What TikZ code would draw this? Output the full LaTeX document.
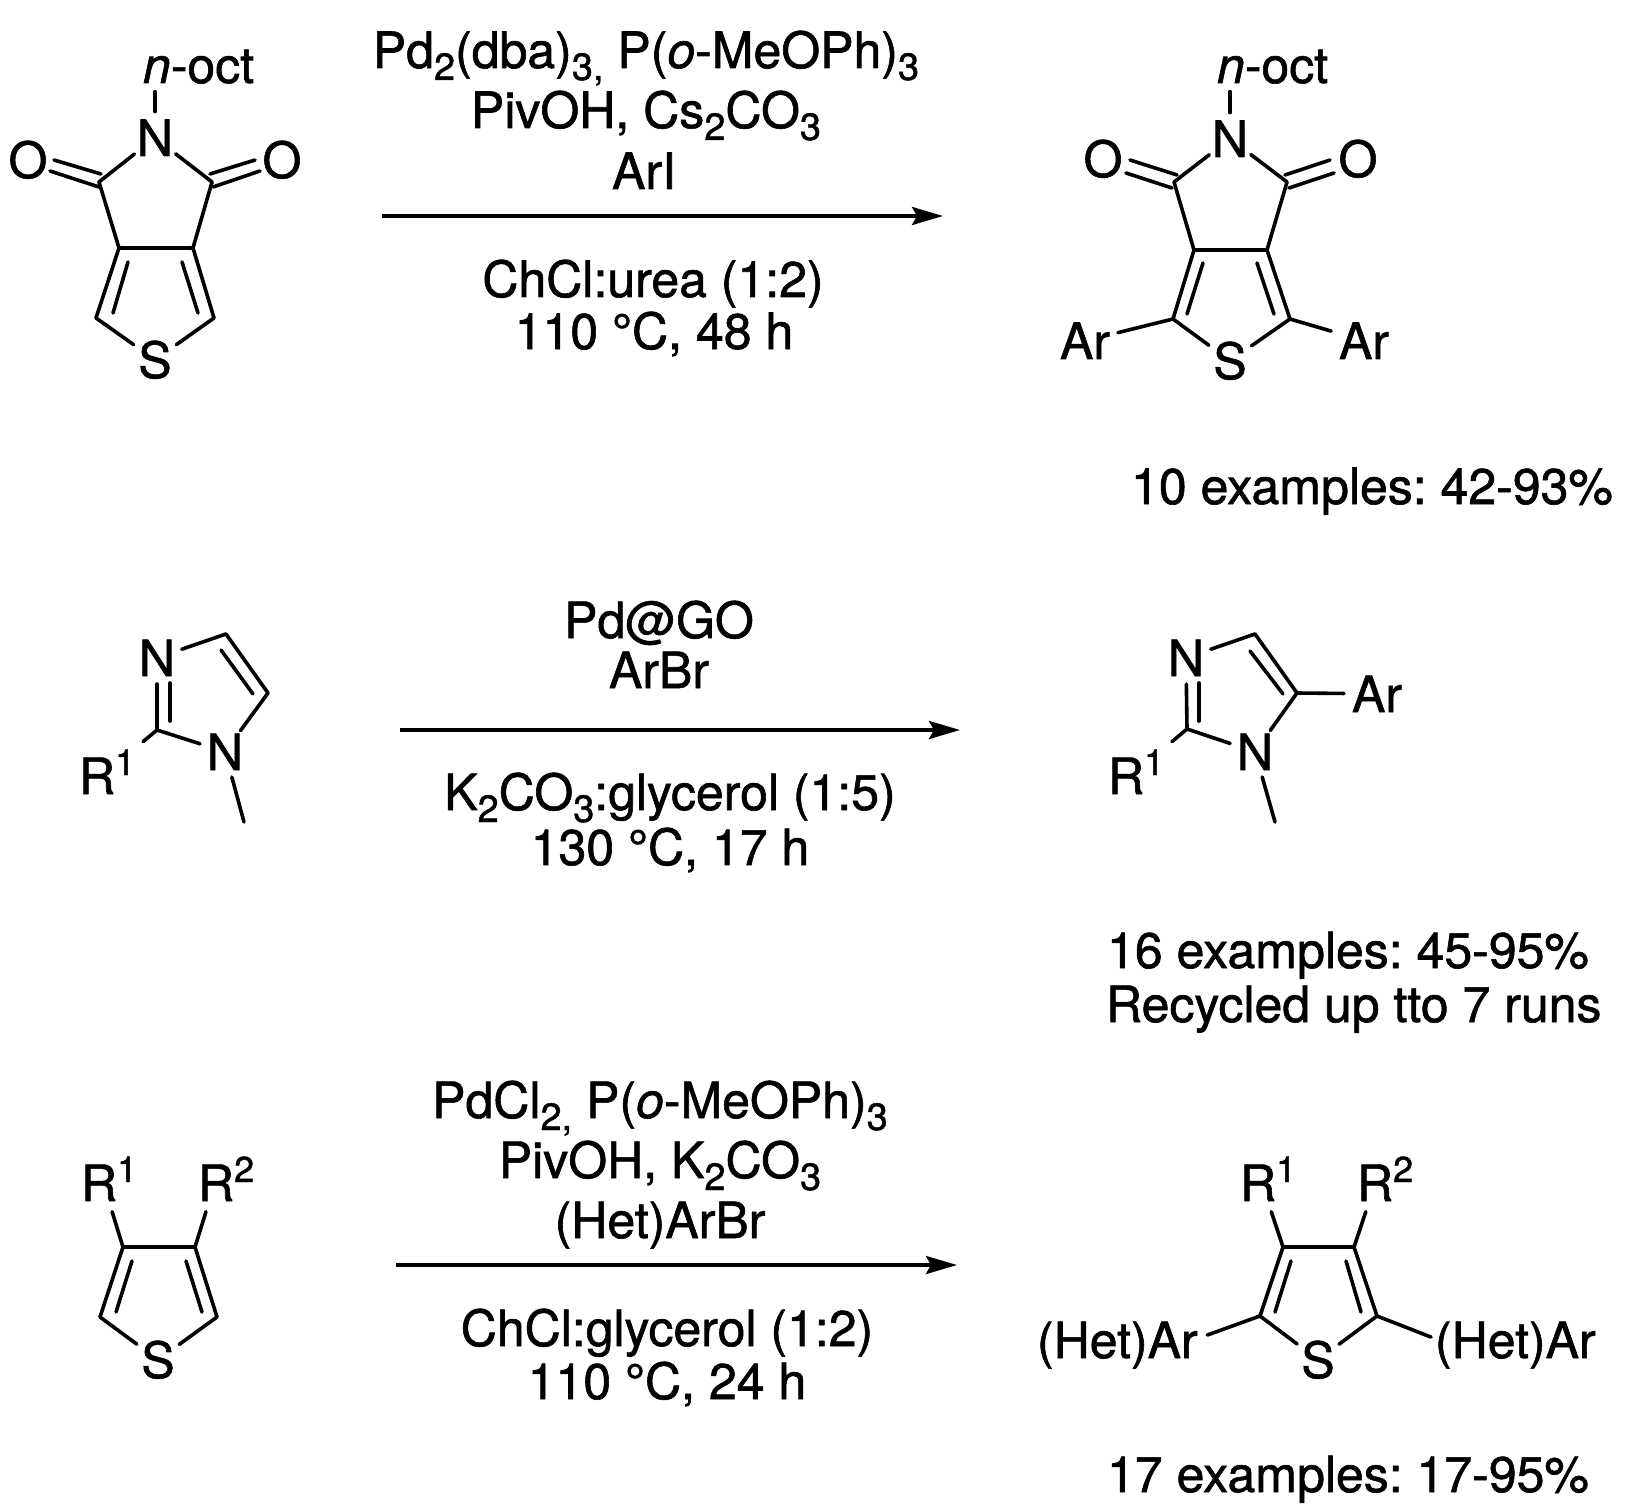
\documentclass[tikz,border=0pt]{standalone}
\usepackage{fontspec}
\setmainfont{TeX Gyre Heros}[FakeBold=1.2]
\usetikzlibrary{arrows.meta}
\frenchspacing
\newcommand{\chemsub}[1]{\raisebox{-12pt}{\fontsize{38}{38}\selectfont #1}}
\newcommand{\chemsup}[1]{\raisebox{19pt}{\fontsize{36}{36}\selectfont #1}}
\tikzset{bond/.style={line width=3.6pt, line cap=round}}
\tikzset{rxn/.style={line width=3.6pt, -{Stealth[length=31pt, width=18pt, inset=5pt]}}}
\tikzset{atom/.style={circle, inner sep=0pt, minimum size=52pt, anchor=base, font=\fontsize{50}{60}\selectfont}}
\tikzset{lab/.style={inner sep=0pt, outer sep=4pt, anchor=base west, font=\fontsize{50}{60}\selectfont}}
\tikzset{cond/.style={inner sep=0pt, anchor=base, font=\fontsize{50}{60}\selectfont}}

\begin{document}
\begin{tikzpicture}[x=1pt, y=-1pt]
\path [fill=white, use as bounding box] (0,0) rectangle (1640,1511);

% atoms
\foreach \n/\t/\x/\y in {aN/N/155/156, aS/S/155/378, aOl/O/28/178, aOr/O/282/178,
  bN/N/1230/157, bS/S/1230/379, bOl/O/1103/177, bOr/O/1358/177,
  cNt/N/157/676, cNb/N/225/770, dNt/N/1186/676, dNb/N/1255/770,
  eS/S/158/1378, fS/S/1318/1378} {
  \node [atom] (\n) at (\x,\y) {\t};
}

% substituents
\node [lab] (aOct) at (139,83) {\textit{n}-oct};
\node [lab] (bOct) at (1213,83) {\textit{n}-oct};
\node [lab] (bArl) at (1056,359) {Ar};
\node [lab] (bArr) at (1335,359) {Ar};
\node [lab] (cR) at (75,794) {R\chemsup{1}};
\node [lab] (dR) at (1104,794) {R\chemsup{1}};
\node [lab] (dAr) at (1348,712) {Ar};
\node [lab] (eRa) at (77,1201) {R\chemsup{1}};
\node [lab] (eRb) at (194,1201) {R\chemsup{2}};
\node [lab] (fRa) at (1236,1201) {R\chemsup{1}};
\node [lab] (fRb) at (1353,1201) {R\chemsup{2}};
\node [lab] (fHl) at (1033,1358) {(Het)Ar};
\node [lab] (fHr) at (1431,1358) {(Het)Ar};

% ring corners and the ends of double bonds
\foreach \c/\x/\y in {aCl/99/182, aCr/212/182, aRl/119/248, aRr/193/248, aTl/96/318, aTr/214/318,
  aOla/54/160, aOlb/101/174, aOlc/50/171, aOld/99/187, aOra/255/160, aOrb/210/174, aOrc/260/171, aOrd/213/187,
  aIla/128/262, aIlb/113/313, aIra/182/262, aIrb/198/313,
  bCl/1174/182, bCr/1287/182, bRl/1194/250, bRr/1267/250, bTl/1173/319, bTr/1290/319,
  bOla/1130/160, bOlb/1177/175, bOlc/1126/173, bOld/1172/188, bOra/1330/160, bOrb/1285/175, bOrc/1334/173, bOrd/1289/188,
  bIla/1203/263, bIlb/1187/314, bIra/1257/263, bIrb/1274/314,
  cC/157/730, cT/226/634, cE/268/693, cMe/244/822, cIa/170/683, cIb/170/721, cIc/221/650, cId/253/694,
  dC/1187/729, dT/1255/634, dE/1297/693, dMe/1275/822, dIa/1199/683, dIb/1199/721, dIc/1250/651, dId/1283/694,
  eRl/123/1247, eRr/195/1247, eTl/100/1317, eTr/217/1317, eIla/132/1261, eIlb/116/1312, eIra/186/1261, eIrb/202/1312,
  fRl/1283/1247, fRr/1354/1247, fTl/1260/1316, fTr/1377/1316, fIla/1291/1261, fIlb/1275/1312, fIra/1346/1261, fIrb/1361/1312,
  arrA/382/216, arrB/943/216, arrC/400/730, arrD/960/730, arrE/396/1265, arrF/957/1265} {
  \coordinate (\c) at (\x,\y);
}

% bonds
\foreach \a/\b in {aN/aCl, aN/aCr, aCl/aRl, aCr/aRr, aRl/aRr, aRl/aTl, aRr/aTr, aTl/aS, aTr/aS,
  aOla/aOlb, aOlc/aOld, aOra/aOrb, aOrc/aOrd, aIla/aIlb, aIra/aIrb,
  bN/bCl, bN/bCr, bCl/bRl, bCr/bRr, bRl/bRr, bRl/bTl, bRr/bTr, bTl/bS, bTr/bS,
  bOla/bOlb, bOlc/bOld, bOra/bOrb, bOrc/bOrd, bIla/bIlb, bIra/bIrb,
  cC/cNt, cC/cNb, cNt/cT, cT/cE, cE/cNb, cNb/cMe, cIa/cIb, cIc/cId,
  dC/dNt, dC/dNb, dNt/dT, dT/dE, dE/dNb, dNb/dMe, dIa/dIb, dIc/dId,
  eRl/eRr, eRl/eTl, eRr/eTr, eTl/eS, eTr/eS, eIla/eIlb, eIra/eIrb,
  fRl/fRr, fRl/fTl, fRr/fTr, fTl/fS, fTr/fS, fIla/fIlb, fIra/fIrb} {
  \draw [bond] (\a) -- (\b);
}
\draw [bond, shorten >=4pt] (aN) -- (aN |- aOct.south);
\draw [bond, shorten >=4pt] (bN) -- (bN |- bOct.south);
\draw [bond, shorten >=4pt] (bTl) -- (bArl);
\draw [bond, shorten >=4pt] (bTr) -- (bArr);
\draw [bond, shorten >=6pt] (cC) -- (cR);
\draw [bond, shorten >=6pt] (dC) -- (dR);
\draw [bond, shorten >=4pt] (dE) -- (dAr);
\draw [bond, shorten >=7pt] (eRl) -- ([xshift=1pt]eRa.south);
\draw [bond, shorten >=7pt] (eRr) -- ([xshift=-18pt]eRb.south);
\draw [bond, shorten >=7pt] (fRl) -- ([xshift=1pt]fRa.south);
\draw [bond, shorten >=7pt] (fRr) -- ([xshift=-17pt]fRb.south);
\draw [bond, shorten >=6pt] (fTl) -- ([yshift=8pt]fHl.east);
\draw [bond] (fTr) -- ([yshift=8pt]fHr.west);

% arrows
\draw [rxn] (arrA) -- (arrB);
\draw [rxn] (arrC) -- (arrD);
\draw [rxn] (arrE) -- (arrF);

% conditions
\node [cond] (condAa) at (646,68) {Pd\chemsub{2}(dba)\chemsub{3,} P(\textit{o}-MeOPh)\chemsub{3}};
\node [cond] (condAb) at (646,128) {PivOH, Cs\chemsub{2}CO\chemsub{3}};
\node [cond] (condAc) at (644,189) {ArI};
\node [cond] (condAd) at (653,297) {ChCl:urea (1:2)};
\node [cond] (condAe) at (654,349) {110 °C, 48 h};
\node [cond] (condBa) at (659,638) {Pd@GO};
\node [cond] (condBb) at (659,688) {ArBr};
\node [cond] (condBc) at (670,810) {K\chemsub{2}CO\chemsub{3}:glycerol (1:5)};
\node [cond] (condBd) at (670,865) {130 °C, 17 h};
\node [cond] (condCa) at (660,1118) {PdCl\chemsub{2,} P(\textit{o}-MeOPh)\chemsub{3}};
\node [cond] (condCb) at (660,1178) {PivOH, K\chemsub{2}CO\chemsub{3}};
\node [cond] (condCc) at (660,1238) {(Het)ArBr};
\node [cond] (condCd) at (667,1346) {ChCl:glycerol (1:2)};
\node [cond] (condCe) at (667,1399) {110 °C, 24 h};

% yields
\node [cond] (yieldA) at (1372,504) {10 examples: 42-93\%};
\node [cond] (yieldB) at (1348,968) {16 examples: 45-95\%};
\node [lab] (noteB) at (1102,1022) {Recycled up tto 7 runs};
\node [cond] (yieldC) at (1348,1492) {17 examples: 17-95\%};
\end{tikzpicture}
\end{document}
